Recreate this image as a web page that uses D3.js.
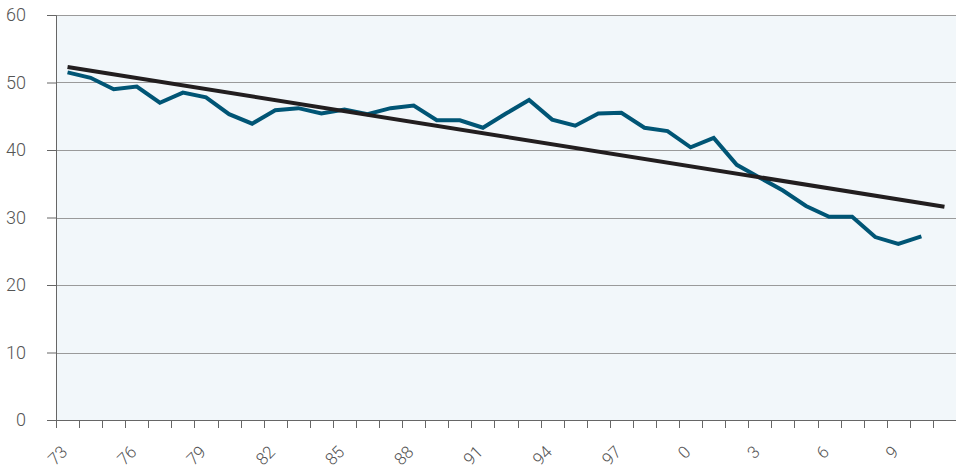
<!DOCTYPE html>
<html>
<head>
<meta charset="utf-8">
<script src="https://cdn.jsdelivr.net/npm/d3@7"></script>
<style>
  body { margin: 0; background: #fff; }
  svg { display: block; }
  .tick text { font-family: "Roboto", "DejaVu Sans", sans-serif; font-size: 18px; fill: #555; font-weight: 300; }
</style>
</head>
<body>
<div id="chart"></div>
<script>
// Sets size of the picture
const svgWidth = 956;
const svgHeight = 473;

// Margin round the plot area
const margin = { top: 15, right: 0, bottom: 53, left: 56 };
const width = svgWidth - margin.left - margin.right;
const height = svgHeight - margin.top - margin.bottom;

// Years shown on the x axis (1973 - 2011)
const years = d3.range(1973, 2012);

// Yearly values, 1973 - 2010
const seriesYears = d3.range(1973, 2011);
const seriesValues = [
  51.5, 50.7, 49.0, 49.4, 47.0, 48.5, 47.8, 45.3, 43.9, 45.9,
  46.2, 45.4, 46.0, 45.3, 46.2, 46.6, 44.4, 44.4, 43.3, 45.4,
  47.4, 44.5, 43.6, 45.4, 45.5, 43.3, 42.8, 40.4, 41.8, 37.8,
  35.9, 34.0, 31.7, 30.1, 30.1, 27.1, 26.1, 27.2
];

// Trend line end points
const trendYears = [1973, 2011];
const trendValues = [52.3, 31.6];

// Y axis ticks
const yTicks = [0, 10, 20, 30, 40, 50, 60];

const svg = d3.select("#chart")
  .append("svg")
  .attr("width", svgWidth)
  .attr("height", svgHeight);

const chart = svg.append("g")
  .attr("transform", "translate(" + margin.left + "," + margin.top + ")");

// Scales
const xBand = d3.scaleBand().domain(years).range([0, width]);
const xScale = function(year) { return xBand(year) + xBand.bandwidth() / 2; };
const yScale = d3.scaleLinear().domain([0, 60]).range([height, 0]);

// Plot background
chart.append("rect")
  .attr("width", width)
  .attr("height", height)
  .attr("fill", "#f2f7fa");

// Gridlines
chart.append("g")
  .selectAll("line")
  .data(yTicks.filter(function(d) { return d > 0; }))
  .enter()
  .append("line")
  .attr("x1", 0)
  .attr("x2", width)
  .attr("y1", function(d) { return Math.round(yScale(d)) + 0.5; })
  .attr("y2", function(d) { return Math.round(yScale(d)) + 0.5; })
  .attr("stroke", "#9a9a9a")
  .attr("stroke-width", 1);

// Y axis
const leftAxis = d3.axisLeft(yScale).tickValues(yTicks).tickSize(9).tickPadding(21);
const yAxis = chart.append("g").call(leftAxis);
yAxis.select(".domain").attr("stroke", "#666");
yAxis.selectAll(".tick line").attr("stroke", "#666");

// X axis, ticks sit on the band edges
const bottomAxis = d3.axisBottom(xBand).tickSize(0).tickFormat("");
const xAxis = chart.append("g")
  .attr("transform", "translate(0," + height + ")")
  .call(bottomAxis);
xAxis.select(".domain").attr("stroke", "#666");

xAxis.selectAll(".edge")
  .data(years)
  .enter()
  .append("line")
  .attr("class", "edge")
  .attr("x1", function(d) { return Math.round(xBand(d)) + 0.5; })
  .attr("x2", function(d) { return Math.round(xBand(d)) + 0.5; })
  .attr("y1", 0)
  .attr("y2", 8)
  .attr("stroke", "#666");

// Rotated year labels every three years
xAxis.selectAll(".year")
  .data(years.filter(function(d) { return (d - 1973) % 3 === 0; }))
  .enter()
  .append("text")
  .attr("class", "year")
  .attr("transform", function(d) {
    return "translate(" + (xScale(d) + 1) + ",33) rotate(-45)";
  })
  .attr("text-anchor", "end")
  .style("font-family", "Roboto, 'DejaVu Sans', sans-serif")
  .style("font-size", "17px")
  .style("font-weight", "300")
  .style("fill", "#555")
  .text(function(d) { return String(d % 100); });

// Data line
const line = d3.line()
  .x(function(d) { return xScale(d[0]); })
  .y(function(d) { return yScale(d[1]); });

chart.append("path")
  .datum(d3.zip(seriesYears, seriesValues))
  .attr("d", line)
  .attr("fill", "none")
  .attr("stroke", "#005575")
  .attr("stroke-width", 4)
  .attr("stroke-linejoin", "miter");

// Trend line
chart.append("path")
  .datum(d3.zip(trendYears, trendValues))
  .attr("d", line)
  .attr("fill", "none")
  .attr("stroke", "#221e1f")
  .attr("stroke-width", 4);
</script>
</body>
</html>
